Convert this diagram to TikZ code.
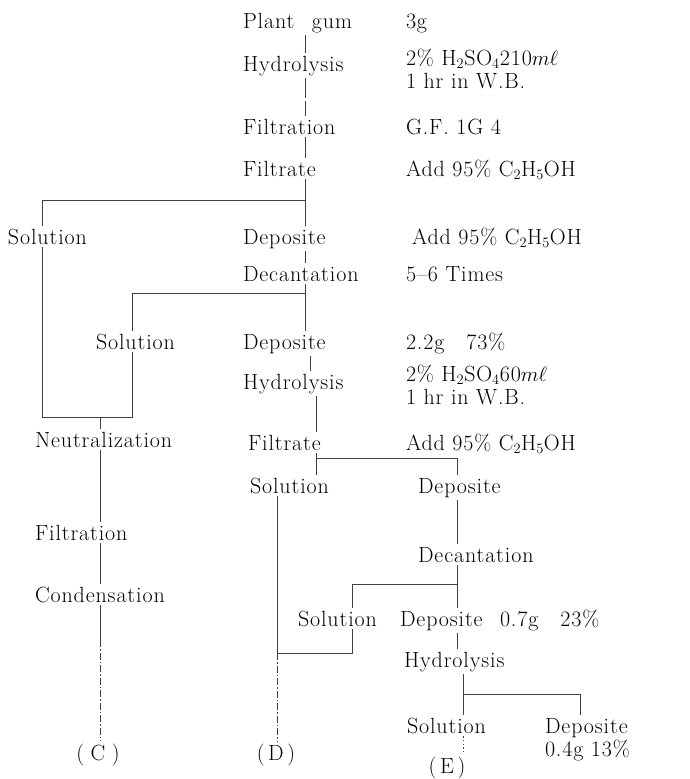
\documentclass[tikz,border=0pt]{standalone}
\usepackage{fontspec}
\setmainfont{Latin Modern Roman}[LetterSpace=4.0]
\begin{document}
\begin{tikzpicture}[x=1pt,y=-1pt,
  lbl/.style={anchor=base west, inner sep=0pt, outer xsep=0pt, outer ysep=3pt, font=\fontsize{22}{24}\selectfont, text=black},
  lblc/.style={lbl, anchor=base},
  conn/.style={line width=0.7pt, draw=black!75},
  chain/.style={conn, dash pattern=on 7pt off 2pt on 1.5pt off 2pt},
  broken/.style={conn, dash pattern=on 20pt off 3pt},
  dots/.style={conn, line width=1pt, dash pattern=on 1.2pt off 2.5pt}]
\useasboundingbox (0,0) rectangle (689,779);
% trunk x positions
\coordinate (xa) at (305,0);
\coordinate (xb) at (310,0);
\coordinate (xc) at (316,0);
\coordinate (xs1) at (42,0);
\coordinate (xs2) at (132,0);
\coordinate (xn) at (100,0);
\coordinate (xd) at (277,0);
\coordinate (xe) at (457,0);
\coordinate (xs4) at (352,0);
\coordinate (xh) at (463,0);
\coordinate (xp) at (580,0);
% main column
\node[lbl] (plant) at (243,28) {Plant\hspace{0.8em}gum};
\node[lbl] (hyd1) at (243,71) {Hydrolysis};
\node[lbl] (filt1) at (243,134) {Filtration};
\node[lbl] (filtr1) at (243,176) {Filtrate};
\node[lbl] (dep1) at (243,244) {Deposite};
\node[lbl] (dec1) at (243,281) {Decantation};
\node[lbl] (dep2) at (243,349) {Deposite};
\node[lbl] (hyd2) at (243,389) {Hydrolysis};
\node[lbl] (filtr2) at (248,450) {Filtrate};
% notes
\node[lbl] (n1) at (406,28) {3g};
\node[lbl] (n2a) at (406,65) {2\% H$_2$SO$_4$210$m\ell$};
\node[lbl] (n2b) at (406,88) {1 hr in W.B.};
\node[lbl] (n3) at (406,134) {G.F. 1G 4};
\node[lbl] (n4) at (406,176) {Add 95\% C$_2$H$_5$OH};
\node[lbl] (n5) at (412,244) {Add 95\% C$_2$H$_5$OH};
\node[lbl] (n6) at (406,281) {5--6 Times};
\node[lbl] (n7) at (406,349) {2.2g\quad 73\%};
\node[lbl] (n8a) at (406,381) {2\% H$_2$SO$_4$60$m\ell$};
\node[lbl] (n8b) at (406,404) {1 hr in W.B.};
\node[lbl] (n9) at (406,450) {Add 95\% C$_2$H$_5$OH};
% left branch
\node[lbl] (sol1) at (8,244) {Solution};
\node[lbl] (sol2) at (96,349) {Solution};
\node[lbl] (neut) at (35,447) {Neutralization};
\node[lbl] (filt2) at (35,540) {Filtration};
\node[lbl] (cond) at (35,602) {Condensation};
\node[lblc] (C) at (98,760) {(\hspace{0.3em}C\hspace{0.3em})};
% lower branches
\node[lbl] (sol3) at (250,493) {Solution};
\node[lbl] (dep3) at (418,493) {Deposite};
\node[lbl] (dec2) at (418,562) {Decantation};
\node[lbl] (sol4) at (298,626) {Solution};
\node[lbl] (dep4) at (400,626) {Deposite};
\node[lbl] (n10) at (500,626) {0.7g\quad 23\%};
\node[lbl] (hyd3) at (404,667) {Hydrolysis};
\node[lbl] (sol5) at (407,733) {Solution};
\node[lbl] (dep5) at (545,733) {Deposite};
\node[lbl] (n11) at (545,756) {0.4g 13\%};
\node[lblc] (D) at (276,760) {(\,D\,)};
\node[lblc] (E) at (447,773) {(\,E\,)};
% junctions
\coordinate (j1) at (305,200);
\coordinate (j2) at (305,293);
\coordinate (j3) at (316,458);
\coordinate (j4) at (457,584);
\coordinate (j5) at (463,694);
\coordinate (k1) at (42,417);
\coordinate (k2) at (132,417);
\coordinate (k3) at (100,417);
\coordinate (k4) at (277,653);
\coordinate (k5) at (352,653);
\coordinate (k6) at (100,640);
% connectors
\draw[conn] (plant.south -| xa) -- (hyd1.north -| xa);
\draw[broken] (hyd1.south -| xa) -- (filt1.north -| xa);
\draw[conn] (filt1.south -| xa) -- (filtr1.north -| xa);
\draw[conn] (filtr1.south -| xa) -- (dep1.north -| xa);
\draw[conn] (j1) -- (j1 -| xs1) -- (sol1.north -| xs1);
\draw[conn] (sol1.south -| xs1) -- (k1) -- (k2) -- (sol2.south -| xs2);
\draw[conn] (k3) -- (neut.north -| xn);
\draw[conn] (neut.south -| xn) -- (filt2.north -| xn);
\draw[conn] (filt2.south -| xn) -- (cond.north -| xn);
\draw[conn] (cond.south -| xn) -- (k6);
\draw[chain] (k6) -- (C.north -| xn);
\draw[conn] (dep1.south -| xa) -- (dec1.north -| xa);
\draw[conn] (dec1.south -| xa) -- (dep2.north -| xa);
\draw[conn] (j2) -- (j2 -| xs2) -- (sol2.north -| xs2);
\draw[conn] (dep2.south -| xb) -- (hyd2.north -| xb);
\draw[conn] (hyd2.south -| xc) -- (filtr2.north -| xc);
\draw[conn] (filtr2.south -| xc) -- (sol3.north -| xc);
\draw[conn] (j3) -- (j3 -| xe) -- (dep3.north -| xe);
\draw[conn] (sol3.south -| xd) -- (k4);
\draw[chain] (k4) -- (D.north -| xd);
\draw[conn] (dep3.south -| xe) -- (dec2.north -| xe);
\draw[conn] (dec2.south -| xe) -- (dep4.north -| xe);
\draw[conn] (j4) -- (j4 -| xs4) -- (sol4.north -| xs4);
\draw[conn] (sol4.south -| xs4) -- (k5) -- (k4);
\draw[conn] (dep4.south -| xe) -- (hyd3.north -| xe);
\draw[conn] (hyd3.south -| xh) -- (sol5.north -| xh);
\draw[conn] (j5) -- (j5 -| xp) -- (dep5.north -| xp);
\draw[dots] (sol5.south -| xh) -- (E.north -| xh);
\end{tikzpicture}
\end{document}
